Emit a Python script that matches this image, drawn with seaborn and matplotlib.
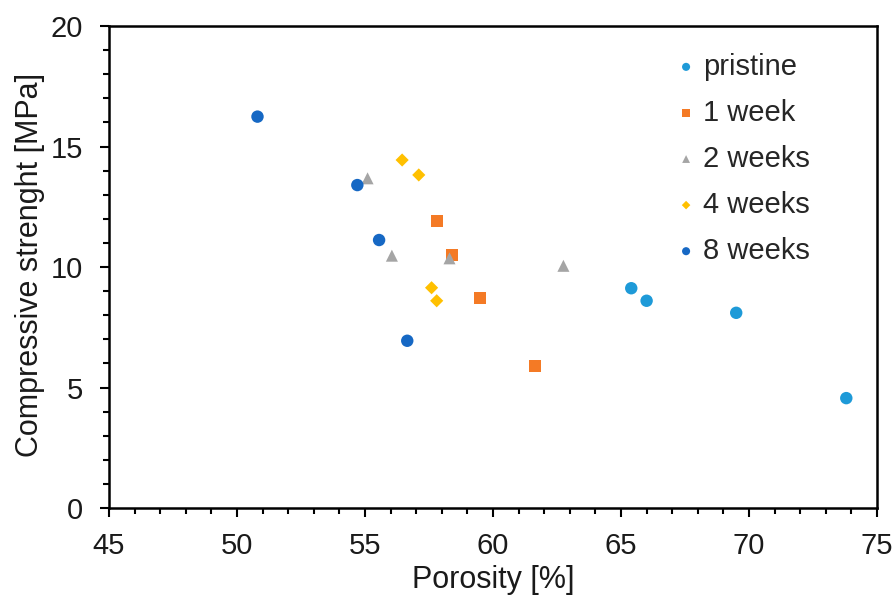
import matplotlib
matplotlib.use("Agg")
import matplotlib.pyplot as plt
import seaborn as sns
import pandas as pd
from matplotlib.ticker import MultipleLocator

# Data
pristine_x = [65.4, 66.0, 69.5, 73.8]
pristine_y = [9.12, 8.6, 8.1, 4.56]
week1_x = [57.8, 58.4, 59.5, 61.65]
week1_y = [11.92, 10.5, 8.7, 5.9]
week2_x = [55.1, 56.05, 58.3, 62.75]
week2_y = [13.68, 10.47, 10.36, 10.05]
week4_x = [56.45, 57.1, 57.6, 57.8]
week4_y = [14.44, 13.82, 9.14, 8.6]
week8_x = [50.8, 54.7, 55.55, 56.65]
week8_y = [16.24, 13.4, 11.12, 6.94]

series = ["pristine", "1 week", "2 weeks", "4 weeks", "8 weeks"]
xs = [pristine_x, week1_x, week2_x, week4_x, week8_x]
ys = [pristine_y, week1_y, week2_y, week4_y, week8_y]

colors = ["#1E9AD8", "#F47A25", "#A5A5A5", "#FFC000", "#1668C4"]
markers = ["o", "s", "^", "D", "o"]
sizes = [80, 75, 75, 45, 80]

sns.set_style("white")
plt.rcParams['font.family'] = ['Liberation Sans', 'DejaVu Sans']

fig = plt.figure(figsize=(8.95, 6.02), dpi=100)
ax = fig.add_axes([0.1218, 0.1561, 0.9799 - 0.1218, 0.9568 - 0.1561])

rows = []
for name, xv, yv in zip(series, xs, ys):
    for a, b in zip(xv, yv):
        rows.append({"Porosity": a, "Strength": b, "Group": name})
df = pd.DataFrame(rows)

for name, c, m, s in zip(series, colors, markers, sizes):
    sub = df[df["Group"] == name]
    sns.scatterplot(data=sub, x="Porosity", y="Strength", ax=ax, color=c,
                    marker=m, s=s, edgecolor="none", label=name)

ax.set_xlim(45, 75)
ax.set_ylim(0, 20)
ax.xaxis.set_major_locator(MultipleLocator(5))
ax.xaxis.set_minor_locator(MultipleLocator(1))
ax.yaxis.set_major_locator(MultipleLocator(5))
ax.yaxis.set_minor_locator(MultipleLocator(1))
ax.tick_params(axis="both", which="both", bottom=True, left=True, top=False, right=False)
ax.tick_params(axis="both", which="major", direction="out", length=6.5, width=1.5,
               labelsize=21, color="black", labelcolor="#1a1a1a")
ax.tick_params(axis="x", which="major", pad=11)
ax.tick_params(axis="y", which="major", pad=12)
ax.tick_params(axis="both", which="minor", direction="out", length=4, width=1.5,
               color="black")

for sp in ax.spines.values():
    sp.set_visible(True)
    sp.set_color("black")
    sp.set_linewidth(1.8)

ax.set_xlabel("Porosity [%]", fontsize=22, color="#1a1a1a")
ax.set_ylabel("Compressive strenght [MPa]", fontsize=22, color="#1a1a1a")
ax.xaxis.set_label_coords(0.5, -0.118)
ax.yaxis.set_label_coords(-0.083, 0.505)

leg = ax.legend(loc="upper left", bbox_to_anchor=(0.740, 0.945), frameon=False,
                fontsize=21, markerscale=0.65, handletextpad=0.29, labelspacing=0.62,
                handlelength=0.6, borderaxespad=0, borderpad=0)

fig.savefig("out.png", dpi=100)
